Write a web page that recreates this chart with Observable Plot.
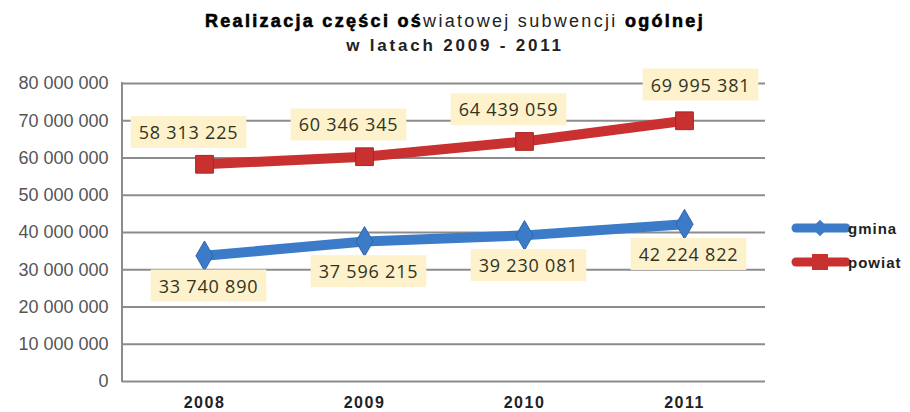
<!DOCTYPE html>
<html><head><meta charset="utf-8">
<script src="https://cdn.jsdelivr.net/npm/d3@7"></script>
<script src="https://cdn.jsdelivr.net/npm/@observablehq/plot@0.6"></script>
<style>
body{margin:0;background:#fff;}
#wrap{position:relative;width:910px;height:412px;font-family:"Liberation Sans",Arial,sans-serif;}
#title{position:absolute;left:0;top:9px;width:910px;text-align:center;color:#000;font-size:18px;line-height:24px;letter-spacing:2.3px;}
#title b{font-weight:900;-webkit-text-stroke:0.6px #000;}
#title .n{font-weight:normal;color:#222;}
#title .sub{font-weight:bold;font-size:17px;letter-spacing:2.8px;color:#222;}
#legend{position:absolute;left:790px;top:210px;}
</style></head>
<body><div id="wrap">
<div id="title"><b>Realizacja części oś</b><span class="n">wiatowej subwencji </span><b>ogólnej</b><br><span class="sub">w latach 2009 - 2011</span></div>
<div id="chart"></div>
<svg id="legend" width="120" height="70"></svg>
</div>
<script>
const years = ["2008", "2009", "2010", "2011"];
const gmina = [33740890, 37596215, 39230081, 42224822];
const powiat = [58313225, 60346345, 64439059, 69995381];
const seriesNames = ["gmina", "powiat"];
const yTicks = [0, 10000000, 20000000, 30000000, 40000000, 50000000, 60000000, 70000000, 80000000];

const blue = "#3b7bc8", red = "#c8312f";
const fmt = v => d3.format(",")(v).replace(/,/g, " ");

const gData = years.map((y, i) => ({year: y, value: gmina[i], i}));
const pData = years.map((y, i) => ({year: y, value: powiat[i], i}));

const lblStyle = {fill: "#33331f", fontSize: 18, fontFamily: "'Open Sans', sans-serif", text: d => fmt(d.value)};

const chart = Plot.plot({
  width: 910, height: 412,
  marginLeft: 122, marginRight: 145, marginTop: 83, marginBottom: 31,
  style: {fontFamily: "'Liberation Sans', Arial, sans-serif", background: "transparent"},
  x: {type: "point", domain: years, padding: 0.5, label: null, tickSize: 0, tickPadding: 15},
  y: {domain: [0, 80000000], ticks: yTicks, tickFormat: fmt, label: null, tickSize: 0, tickPadding: 14},
  marks: [
    Plot.ruleY(yTicks, {stroke: "#8c8c8c", strokeWidth: 2}),
    Plot.line(gData, {x: "year", y: "value", stroke: blue, strokeWidth: 10}),
    Plot.line(pData, {x: "year", y: "value", stroke: red, strokeWidth: 10}),
    Plot.dot(gData, {x: "year", y: "value", symbol: "diamond", r: 9, fill: blue, stroke: "#2e66ab", strokeWidth: 1}),
    Plot.dot(pData, {x: "year", y: "value", symbol: "square", r: 10, fill: red, stroke: "#a82522", strokeWidth: 1}),
    Plot.text(pData.filter(d => d.i < 3), {x: "year", y: "value", dx: -16, dy: -31, ...lblStyle}),
    Plot.text(pData.filter(d => d.i === 3), {x: "year", y: "value", dx: 16, dy: -35, ...lblStyle}),
    Plot.text(gData, {x: "year", y: "value", dx: 4, dy: 31, ...lblStyle})
  ]
});
document.getElementById("chart").appendChild(chart);
const svg = d3.select(chart);

// style axes
svg.selectAll("g[aria-label='y-axis tick label'] text, g[aria-label='y-axis'] text")
  .attr("font-size", 18).attr("fill", "#555");
svg.selectAll("g[aria-label='x-axis tick label'] text, g[aria-label='x-axis'] text")
  .attr("font-size", 16).attr("font-weight", "bold").attr("fill", "#222").style("letter-spacing", "1.5px");

// y axis line at the frame's left edge, from the y scale's range
const ys = chart.scale("y");
svg.insert("line", "g[aria-label='line']")
  .attr("x1", 122).attr("x2", 122)
  .attr("y1", ys.range[0] + 1).attr("y2", ys.range[1] - 1)
  .attr("stroke", "#8c8c8c").attr("stroke-width", 2);

// label boxes
svg.selectAll("g[aria-label='text'] text").each(function() {
  this.style.letterSpacing = "0.8px";
  const b = this.getBBox();
  const t = this.getAttribute("transform");
  const r = document.createElementNS("http://www.w3.org/2000/svg", "rect");
  r.setAttribute("x", b.x - 8); r.setAttribute("y", b.y - 4);
  r.setAttribute("width", b.width + 16); r.setAttribute("height", b.height + 8);
  r.setAttribute("fill", "#fdf2cc");
  if (t) r.setAttribute("transform", t);
  this.parentNode.insertBefore(r, this);
});

// legend
const lg = d3.select("#legend");
const colors = [blue, red];
seriesNames.forEach((n, i) => {
  const y = 18 + i * 34;
  lg.append("line").attr("x1", 6).attr("x2", 56).attr("y1", y).attr("y2", y).attr("stroke", colors[i]).attr("stroke-width", 9).attr("stroke-linecap", "round");
  if (i === 0) lg.append("path").attr("d", d3.symbol(d3.symbolDiamond2, 170)()).attr("transform", `translate(30,${y})`).attr("fill", blue);
  else lg.append("rect").attr("x", 22).attr("y", y - 8).attr("width", 16).attr("height", 16).attr("fill", red);
  lg.append("text").attr("x", 58).attr("y", y + 6).text(n).attr("font-size", 15).attr("font-weight", "bold").attr("fill", "#222").style("letter-spacing", "1px").attr("font-family", "'Liberation Sans', Arial, sans-serif");
});
</script>
</body></html>
